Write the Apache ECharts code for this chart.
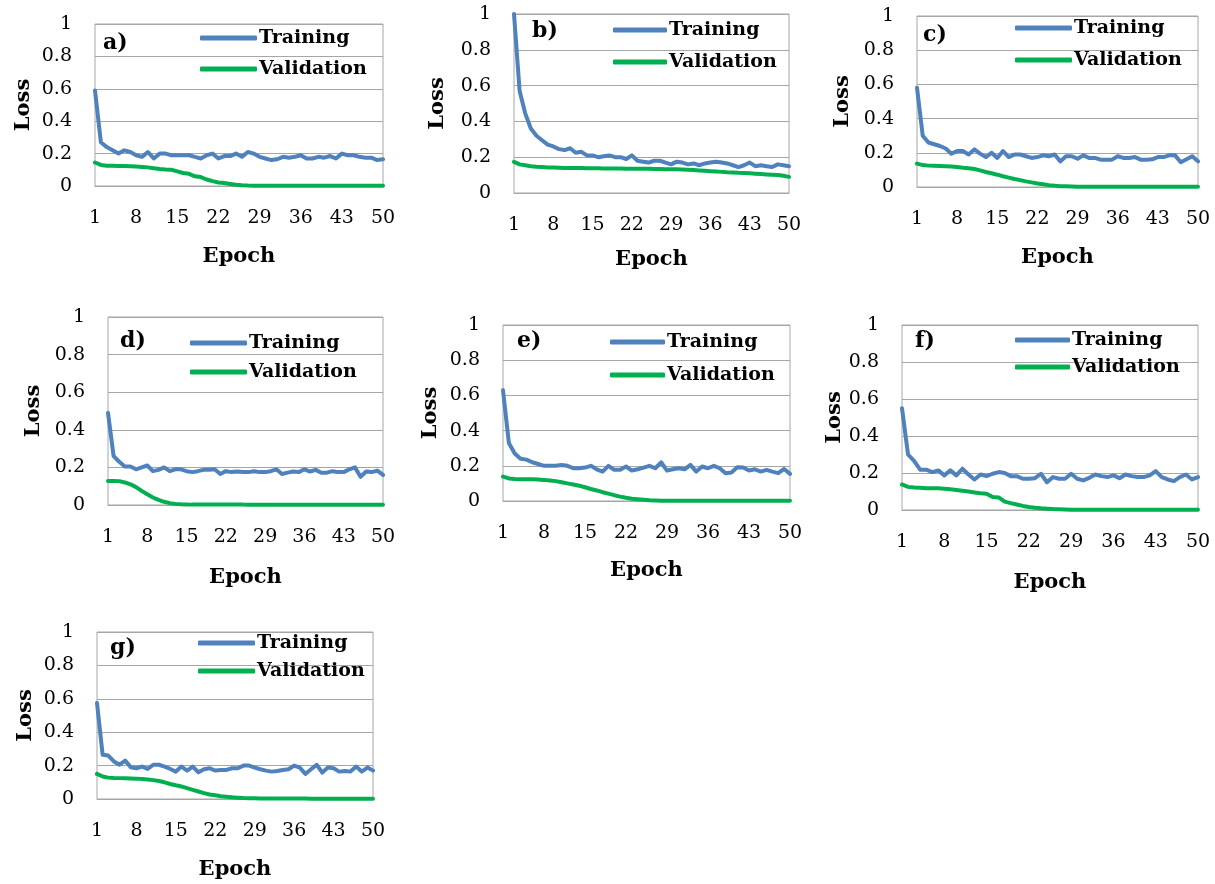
<!DOCTYPE html>
<html>
<head>
<meta charset="utf-8">
<script src="https://cdn.jsdelivr.net/npm/echarts@6/dist/echarts.min.js"></script>
<style>
html,body{margin:0;padding:0;background:#fff;}
#wrap{position:relative;width:1215px;height:884px;background:#fff;}
.panel{position:absolute;left:0;top:0;width:1215px;height:884px;}
</style>
</head>
<body>
<div id="wrap">
<div id="p0" class="panel"></div><div id="p1" class="panel"></div><div id="p2" class="panel"></div>
<div id="p3" class="panel"></div><div id="p4" class="panel"></div><div id="p5" class="panel"></div>
<div id="p6" class="panel"></div>
</div>
<script>
// ---------- DATA ----------
var epochs = ['1','2','3','4','5','6','7','8','9','10','11','12','13','14','15','16','17','18','19','20','21','22','23','24','25','26','27','28','29','30','31','32','33','34','35','36','37','38','39','40','41','42','43','44','45','46','47','48','49','50'];
var panelLabels = ['a)','b)','c)','d)','e)','f)','g)'];
var seriesNames = ['Training','Validation'];
var yTicks = [0, 0.2, 0.4, 0.6, 0.8, 1];

var trainA = [0.59,0.27,0.24,0.22,0.20,0.22,0.21,0.19,0.18,0.21, 0.17,0.20,0.20,0.19,0.19,0.19,0.19,0.18,0.17,0.19, 0.20,0.17,0.185,0.185,0.20,0.18,0.21,0.20,0.18,0.17, 0.16,0.165,0.18,0.175,0.18,0.19,0.17,0.17,0.18,0.175, 0.185,0.17,0.20,0.19,0.19,0.18,0.175,0.175,0.16,0.165];
var valA = [0.145,0.13,0.125,0.125,0.124,0.123,0.122,0.12,0.118,0.115, 0.11,0.105,0.102,0.1,0.09,0.08,0.075,0.06,0.055,0.04, 0.03,0.022,0.018,0.013,0.008,0.005,0.003,0.002,0.002,0.002, 0.002,0.002,0.002,0.002,0.002,0.002,0.002,0.001,0.001,0.001, 0.001,0.001,0.001,0.001,0.001,0.001,0.001,0.001,0.001,0.001];

var trainB = [1.0,0.57,0.445,0.36,0.32,0.295,0.27,0.26,0.245,0.24, 0.25,0.225,0.23,0.21,0.21,0.2,0.205,0.21,0.2,0.2, 0.19,0.21,0.18,0.175,0.17,0.18,0.18,0.17,0.16,0.175, 0.17,0.16,0.165,0.155,0.165,0.17,0.175,0.17,0.165,0.155, 0.145,0.155,0.17,0.15,0.155,0.15,0.145,0.16,0.155,0.15];
var valB = [0.174,0.16,0.155,0.15,0.147,0.145,0.143,0.142,0.141,0.14, 0.14,0.139,0.139,0.138,0.138,0.138,0.137,0.137,0.137,0.137, 0.136,0.136,0.135,0.135,0.135,0.134,0.134,0.133,0.132,0.132, 0.131,0.13,0.128,0.126,0.124,0.122,0.12,0.118,0.116,0.115, 0.113,0.112,0.11,0.108,0.106,0.104,0.102,0.1,0.096,0.09];

var trainC = [0.58,0.30,0.26,0.25,0.24,0.225,0.195,0.21,0.21,0.19, 0.22,0.195,0.175,0.2,0.17,0.21,0.175,0.19,0.19,0.18, 0.17,0.175,0.185,0.18,0.19,0.15,0.18,0.18,0.165,0.185, 0.17,0.17,0.16,0.16,0.16,0.18,0.17,0.17,0.175,0.16, 0.16,0.162,0.175,0.175,0.185,0.185,0.145,0.162,0.18,0.15];
var valC = [0.137,0.128,0.125,0.124,0.123,0.122,0.12,0.117,0.113,0.11, 0.105,0.097,0.088,0.08,0.072,0.063,0.055,0.047,0.04,0.033, 0.027,0.021,0.016,0.011,0.008,0.005,0.004,0.003,0.002,0.002, 0.002,0.002,0.002,0.002,0.001,0.001,0.001,0.001,0.001,0.001, 0.001,0.001,0.001,0.001,0.001,0.001,0.001,0.001,0.001,0.001];

var trainD = [0.49,0.26,0.23,0.205,0.205,0.19,0.2,0.21,0.18,0.187, 0.2,0.18,0.19,0.19,0.18,0.175,0.18,0.187,0.187,0.19, 0.165,0.18,0.175,0.178,0.175,0.175,0.18,0.175,0.175,0.18, 0.19,0.165,0.172,0.178,0.175,0.19,0.178,0.187,0.172,0.172, 0.18,0.175,0.175,0.19,0.2,0.15,0.178,0.175,0.183,0.16];
var valD = [0.128,0.128,0.127,0.12,0.11,0.095,0.075,0.057,0.04,0.027, 0.017,0.01,0.006,0.004,0.003,0.002,0.002,0.002,0.002,0.002, 0.002,0.002,0.002,0.002,0.002,0.001,0.001,0.001,0.001,0.001, 0.001,0.001,0.001,0.001,0.001,0.001,0.001,0.001,0.001,0.001, 0.001,0.001,0.001,0.001,0.001,0.001,0.001,0.001,0.001,0.001];

var trainE = [0.63,0.33,0.27,0.24,0.235,0.22,0.21,0.2,0.2,0.2, 0.205,0.2,0.186,0.186,0.19,0.2,0.18,0.167,0.2,0.177, 0.177,0.196,0.173,0.18,0.19,0.2,0.186,0.22,0.173,0.18, 0.186,0.18,0.205,0.167,0.196,0.186,0.2,0.186,0.158,0.162, 0.192,0.19,0.173,0.18,0.167,0.177,0.167,0.158,0.182,0.154];
var valE = [0.139,0.128,0.125,0.124,0.124,0.124,0.122,0.12,0.117,0.113, 0.107,0.1,0.094,0.087,0.078,0.068,0.06,0.05,0.042,0.033, 0.025,0.018,0.013,0.01,0.007,0.004,0.003,0.002,0.002,0.002, 0.002,0.002,0.002,0.002,0.002,0.002,0.002,0.002,0.002,0.002, 0.002,0.002,0.001,0.001,0.001,0.001,0.001,0.001,0.001,0.001];

var trainF = [0.55,0.30,0.265,0.218,0.218,0.205,0.214,0.187,0.214,0.187, 0.223,0.192,0.165,0.192,0.183,0.196,0.205,0.2,0.183,0.183, 0.169,0.169,0.172,0.196,0.15,0.178,0.169,0.169,0.196,0.169, 0.16,0.174,0.192,0.183,0.178,0.187,0.172,0.192,0.183,0.178, 0.178,0.187,0.21,0.178,0.165,0.156,0.178,0.192,0.165,0.178];
var valF = [0.138,0.125,0.122,0.12,0.118,0.118,0.117,0.115,0.112,0.108, 0.104,0.1,0.095,0.09,0.088,0.07,0.068,0.045,0.037,0.03, 0.022,0.016,0.012,0.009,0.007,0.005,0.004,0.003,0.002,0.002, 0.002,0.002,0.002,0.002,0.002,0.002,0.002,0.002,0.002,0.002, 0.002,0.002,0.002,0.002,0.002,0.002,0.001,0.001,0.001,0.001];

var trainG = [0.575,0.265,0.26,0.225,0.205,0.23,0.19,0.184,0.194,0.18, 0.205,0.205,0.194,0.18,0.164,0.194,0.17,0.194,0.16,0.178, 0.184,0.17,0.174,0.174,0.184,0.184,0.2,0.2,0.188,0.178, 0.17,0.164,0.168,0.174,0.178,0.2,0.188,0.15,0.178,0.205, 0.158,0.188,0.184,0.164,0.168,0.164,0.194,0.164,0.188,0.17];
var valG = [0.15,0.135,0.128,0.126,0.125,0.124,0.123,0.122,0.12,0.117, 0.113,0.108,0.1,0.09,0.082,0.075,0.065,0.055,0.045,0.035, 0.027,0.022,0.017,0.013,0.01,0.008,0.006,0.005,0.004,0.003, 0.003,0.003,0.003,0.003,0.003,0.003,0.003,0.003,0.002,0.002, 0.002,0.002,0.002,0.002,0.002,0.002,0.002,0.002,0.002,0.002];

var trainSets = [trainA, trainB, trainC, trainD, trainE, trainF, trainG];
var valSets = [valA, valB, valC, valD, valE, valF, valG];

// ---------- LAYOUT (positions / styles only) ----------
var panelLayout = [
  {g:[95,24,288,162],  lg:[200,27,9,57],   t:[103,32],  xg:60, yg:61},
  {g:[514,14,275,179], lg:[613,19,10,54],  t:[532,20],  xg:56, yg:66},
  {g:[917,16,281,171], lg:[1015,17,10,57], t:[923,24],  xg:60, yg:64},
  {g:[108,317,275,188],lg:[190,332,7,57],  t:[120,330], xg:62, yg:64},
  {g:[503,325,287,176],lg:[610,331,11,55], t:[517,330], xg:59, yg:62},
  {g:[902,325,296,185],lg:[1015,329,5,55], t:[915,330], xg:62, yg:53},
  {g:[97,632,276,167], lg:[198,632,6,57],  t:[110,637], xg:60, yg:61}
];
var FONT = 'DejaVu Serif';
var BLUE = '#4f81bd', GREEN = '#00b050', LINEGRAY = '#a6a6a6';

function buildOption(i) {
  var L = panelLayout[i];
  return {
    animation: false,
    grid: [{left:L.g[0], top:L.g[1], width:L.g[2], height:L.g[3], show:true, borderColor:LINEGRAY, borderWidth:1}],
    title: [{text: panelLabels[i], left:L.t[0], top:L.t[1], padding:0,
      textStyle:{fontFamily:FONT, fontWeight:'bold', fontSize:22, color:'#000'}}],
    legend: [{
      data: seriesNames, orient:'vertical', left:L.lg[0], top:L.lg[1], itemGap:L.lg[2], padding:0,
      itemWidth:L.lg[3], itemHeight:5, icon:'roundRect', selectedMode:false,
      textStyle:{fontFamily:FONT, fontWeight:'bold', fontSize:19, color:'#000', lineHeight:22, padding:[0,0,0,-3]}
    }],
    xAxis: [{
      gridIndex:0, type:'category', data:epochs, boundaryGap:false,
      axisLine:{show:true, lineStyle:{color:LINEGRAY, width:1}}, axisTick:{show:false},
      axisLabel:{interval:6, margin:23, color:'#000', fontFamily:FONT, fontSize:19},
      splitLine:{show:false},
      name:'Epoch', nameLocation:'middle', nameGap:L.xg,
      nameTextStyle:{fontFamily:FONT, fontWeight:'bold', fontSize:21, color:'#000'}
    }],
    yAxis: [{
      gridIndex:0, type:'value', min:yTicks[0], max:yTicks[yTicks.length-1], interval:0.2,
      axisLine:{show:false}, axisTick:{show:false},
      axisLabel:{margin:23, color:'#000', fontFamily:FONT, fontSize:19},
      splitLine:{show:true, lineStyle:{color:LINEGRAY, width:1}},
      name:'Loss', nameLocation:'middle', nameGap:L.yg,
      nameTextStyle:{fontFamily:FONT, fontWeight:'bold', fontSize:21, color:'#000'}
    }],
    series: [
      {name:seriesNames[0], type:'line', xAxisIndex:0, yAxisIndex:0, data:trainSets[i],
       symbol:'none', color:BLUE, lineStyle:{width:4, color:BLUE, cap:'round', join:'round'}, z:3},
      {name:seriesNames[1], type:'line', xAxisIndex:0, yAxisIndex:0, data:valSets[i],
       symbol:'none', color:GREEN, lineStyle:{width:4, color:GREEN, cap:'round', join:'round'}, z:2}
    ]
  };
}

for (var i = 0; i < panelLayout.length; i++) {
  var inst = echarts.init(document.getElementById('p' + i), null, {renderer:'canvas'});
  inst.setOption(buildOption(i));
}
</script>
</body>
</html>
